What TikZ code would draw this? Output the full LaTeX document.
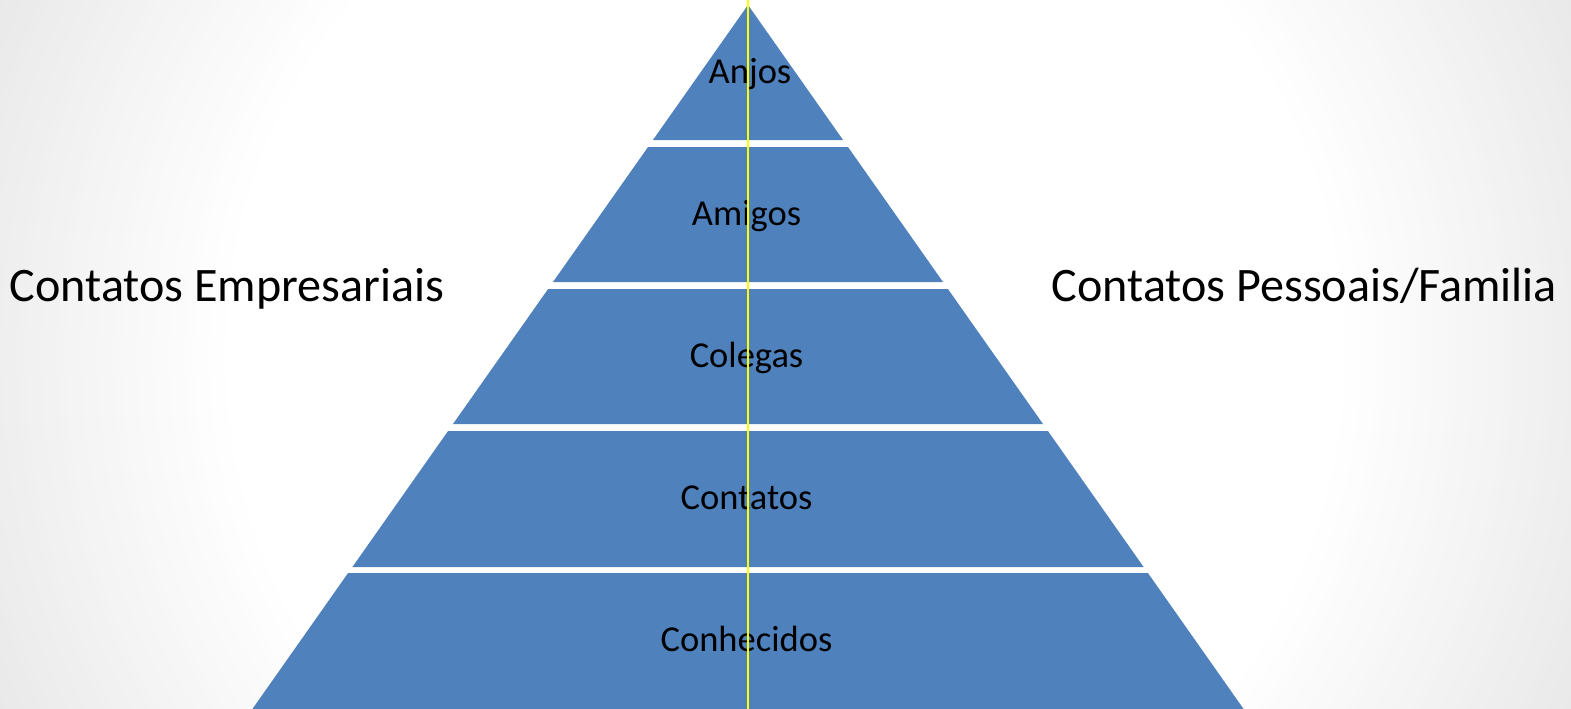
\documentclass[tikz,border=0pt]{standalone}
\usepackage{fontspec}
\setmainfont{Carlito}
\definecolor{pyrblue}{HTML}{4F81BD}
\definecolor{yline}{HTML}{FFFF00}
\definecolor{bggrey}{HTML}{E8E8E8}
\tikzset{
  layer/.style={fill=pyrblue, draw=none},
  lbl/.style={font=\fontsize{36.5}{40}\selectfont, anchor=base, inner sep=0pt, text=black},
  side/.style={font=\fontsize{48.1}{52}\selectfont, anchor=base, inner sep=0pt, text=black},
  axis/.style={draw=yline, line width=2pt}
}
\begin{document}
\begin{tikzpicture}[x=1pt,y=-1pt]
\useasboundingbox (0,0) rectangle (1571,709);
\clip (0,0) rectangle (1571,709);
% background: grey base with white radial glow (stepped rings)
\fill[bggrey] (0,0) rectangle (1571,709);
\foreach \i in {0,...,40}{
  \pgfmathsetmacro\rr{880-8*\i}
  \pgfmathsetmacro\pp{100-2.5*\i}
  \fill[bggrey!\pp!white] (785,354) circle[radius=\rr];
}
% pyramid layers
\fill[layer] (748,5) -- (843.04,140) -- (652.96,140) -- cycle;
\fill[layer] (648.03,147) -- (847.97,147) -- (943,282) -- (553,282) -- cycle;
\fill[layer] (548.1,289) -- (947.9,289) -- (1043,424) -- (453,424) -- cycle;
\fill[layer] (448.1,431) -- (1047.9,431) -- (1143.6,567) -- (352.4,567) -- cycle;
\fill[layer] (348.1,573) -- (1147.9,573) -- (1245.7,712) -- (250.3,712) -- cycle;
% labels
\node[lbl] (anjos) at (750,83) {Anjos};
\node[lbl] (amigos) at (746.5,225.5) {Amigos};
\node[lbl] (colegas) at (746.5,367.5) {Colegas};
\node[lbl] (contatos) at (746.5,509.5) {Contatos};
\node[lbl] (conhecidos) at (746.5,651) {Conhecidos};
\node[side] (empresariais) at (227,301) {Contatos Empresariais};
\node[side] (pessoais) at (1304.5,301) {Contatos Pessoais/Familia};
% axis
\coordinate (axtop) at (748.3,0);
\coordinate (axbot) at (748.3,709);
\draw[axis] (axtop) -- (axbot);
\end{tikzpicture}
\end{document}
